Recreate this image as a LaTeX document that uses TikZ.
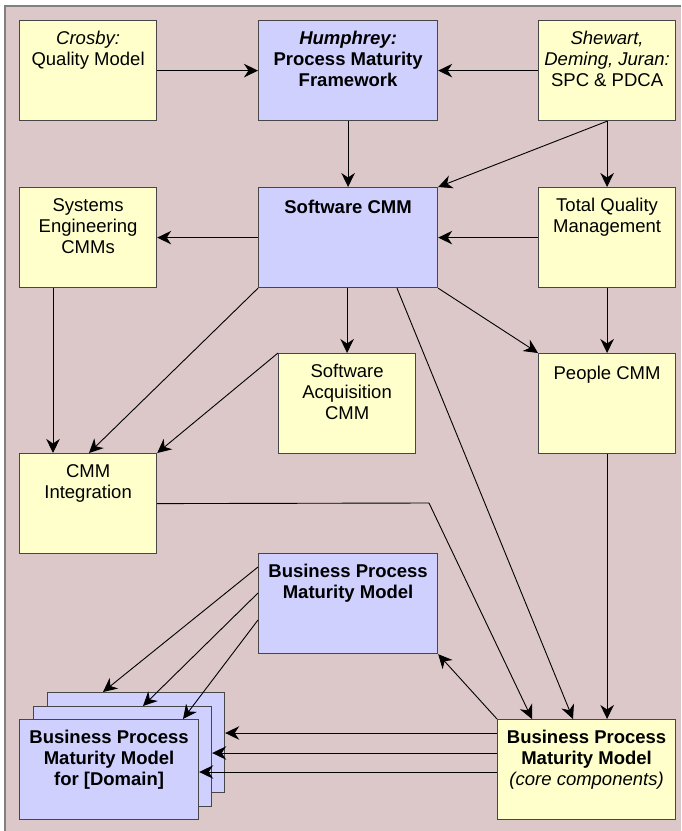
\documentclass[tikz,border=0pt]{standalone}
\usepackage{fontspec}
\setmainfont{Liberation Sans}
\usetikzlibrary{arrows.meta,calc}
\definecolor{bg}{RGB}{220,200,200}
\definecolor{yel}{RGB}{255,255,204}
\definecolor{blu}{RGB}{208,208,255}
\definecolor{edge}{RGB}{70,70,70}
\begin{document}
\begin{tikzpicture}[x=1pt,y=-1pt,
 box/.style={draw=edge, line width=1.2pt, anchor=north west, inner sep=0, minimum height=100pt},
 ybox/.style={box, fill=yel},
 bbox/.style={box, fill=blu},
 narrow/.style={minimum width=137pt},
 wide/.style={minimum width=179pt},
 txt/.style={anchor=north, inner sep=0, align=center, font=\fontsize{18.5}{21}\selectfont, yshift=-11pt, execute at begin node=\rule{0pt}{15pt}},
 txtb/.style={txt, font=\fontsize{18.5}{21}\selectfont\bfseries},
 conn/.style={draw=black, line width=0.9pt, -{Stealth[length=14pt,width=13.5pt,inset=4.5pt]}},
 plain/.style={draw=black, line width=0.9pt}
]
\useasboundingbox (0,0) rectangle (681,831);
\fill[bg] (5,6) rectangle (681,831);
\draw[gray, line width=1.5pt] (5,831) -- (5,6) -- (681,6);

% row 1
\node[ybox,narrow,label={[txt]north:{\itshape Crosby:}\\Quality Model}] (crosby) at (19,20) {};
\node[bbox,wide,label={[txtb]north:{\itshape Humphrey:}\\Process Maturity\\Framework}] (hum) at (258,20) {};
\node[ybox,narrow,label={[txt]north:{\itshape Shewart,}\\{\itshape Deming, Juran:}\\SPC \& PDCA}] (shew) at (538,20) {};
% row 2
\node[ybox,narrow,label={[txt]north:Systems\\Engineering\\CMMs}] (se) at (19,187) {};
\node[bbox,wide,label={[txtb]north:Software CMM}] (sw) at (258,187) {};
\node[ybox,narrow,label={[txt]north:Total Quality\\Management}] (tqm) at (538,187) {};
% row 3
\node[ybox,narrow,label={[txt]north:Software\\Acquisition\\CMM}] (sa) at (278,353) {};
\node[ybox,narrow,label={[txt]north:People CMM}] (people) at (538,353) {};
\node[ybox,narrow,label={[txt]north:CMM\\Integration}] (cmmi) at (19,453) {};
% bottom
\node[bbox,wide,label={[txtb]north:Business Process\\Maturity Model}] (bpmm) at (258,553) {};
\node[ybox,minimum width=178pt,label={[txtb]north:Business Process\\Maturity Model\\{\mdseries\itshape (core components)}}] (core) at (497,719) {};
\node[bbox,minimum width=177pt] (d3) at (47,692) {};
\node[bbox,minimum width=178pt] (d2) at (33,706) {};
\node[bbox,minimum width=179pt,label={[txtb]north:Business Process\\Maturity Model\\for [Domain]}] (d1) at (19,719) {};

% connectors
\draw[conn] (crosby.east) -- (hum.west);
\draw[conn] (shew.west) -- (hum.east);
\draw[conn] (hum.south) -- (sw.north);
\draw[conn] (shew.south) -- (sw.north east);
\draw[conn] (shew.south) -- (tqm.north);
\draw[conn] (sw.west) -- (se.east);
\draw[conn] (tqm.west) -- (sw.east);
\draw[conn] ([xshift=34pt]se.south west) -- ([xshift=34pt]cmmi.north west);
\draw[conn] (sw.south west) -- ([xshift=70pt]cmmi.north west);
\draw[conn] (sa.north west) -- (cmmi.north east);
\draw[conn] (sw.south -| sa.north) -- (sa.north);
\draw[conn] (sw.south east) -- (people.north west);
\draw[conn] (tqm.south) -- (people.north);
\draw[conn] ([xshift=139pt]sw.south west) -- ([xshift=76pt]core.north west);
\coordinate (bend) at (429,503);
\draw[conn] (cmmi.east) -- (bend) -- ([xshift=35pt]core.north west);
\draw[conn] (people.south) -- (people.south |- core.north);
\draw[conn] (core.north west) -- (bpmm.south east);
\draw[conn] ([yshift=-14pt]bpmm.north west) -- ([xshift=56pt]d3.north west);
\draw[conn] ([yshift=-40pt]bpmm.north west) -- ([xshift=110pt]d2.north west);
\draw[conn] ([yshift=-67pt]bpmm.north west) -- ([xshift=164pt]d1.north west);
\draw[conn] ([yshift=-14pt]core.north west) -- ([yshift=-14pt]core.north west -| d3.east);
\draw[conn] ([yshift=-34pt]core.north west) -- ([yshift=-34pt]core.north west -| d2.east);
\draw[conn] ([yshift=-53pt]core.north west) -- ([yshift=-53pt]core.north west -| d1.east);
\end{tikzpicture}
\end{document}
